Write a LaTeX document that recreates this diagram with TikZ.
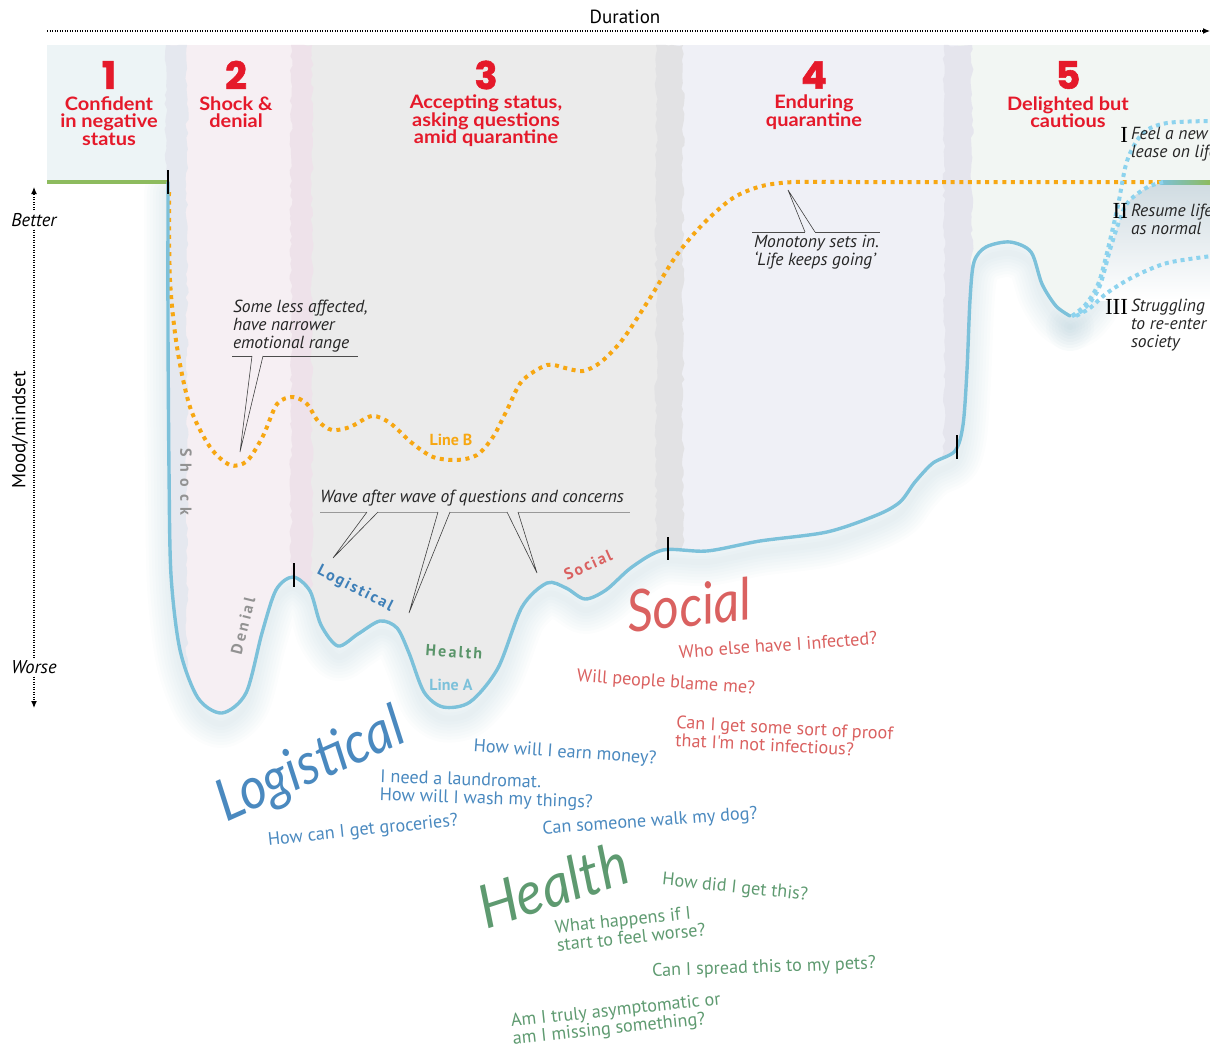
\documentclass[tikz,border=0pt]{standalone}
\usepackage{fontspec}
\setmainfont{PT Sans}
\newfontfamily\headfont{Lato}
\newfontfamily\numfont{Poppins}[FakeBold=1.5]
\newfontfamily\tagfont{PT Sans}
\newfontfamily\handfont{Lato}
\newfontfamily\qfont{PT Sans}
\newfontfamily\romanfont{Liberation Serif}
\usetikzlibrary{arrows.meta,decorations.pathmorphing}

\definecolor{headred}{HTML}{E5192A}
\definecolor{linea}{HTML}{7CC1DA}
\definecolor{lineb}{HTML}{F7A712}
\definecolor{afterc}{HTML}{8DD3EE}
\definecolor{greenc}{HTML}{8DBB5E}
\definecolor{shadowc}{HTML}{93B8C6}
\definecolor{shadeII}{HTML}{CFDBE1}
\definecolor{ph1}{HTML}{EDF4F6}
\definecolor{ph2}{HTML}{F6EFF3}
\definecolor{ph3}{HTML}{EBEBEB}
\definecolor{ph4}{HTML}{EFF0F6}
\definecolor{ph5}{HTML}{F2F6F3}
\definecolor{st12}{HTML}{E5E8EF}
\definecolor{st23}{HTML}{EEE2EA}
\definecolor{st34}{HTML}{E2E2E4}
\definecolor{st45}{HTML}{E5E5ED}
\definecolor{qblue}{HTML}{4A89BF}
\definecolor{qred}{HTML}{DA6160}
\definecolor{qgreen}{HTML}{5E9A70}
\definecolor{tagblue}{HTML}{3F80B8}
\definecolor{taggreen}{HTML}{5A956A}
\definecolor{taggray}{HTML}{929292}

% the mood curves, in pixel-like units (y grows downwards)
\def\lineApath{plot[smooth,tension=0.5] coordinates {(168,182) (168,330) (169,470) (171,575) (180,650) (198,698) (222,713) (246,693) (262,633) (276,590) (293,577) (310,591) (321,625) (338,646) (358,634) (380,621) (397,628) (409,653) (424,692) (443,707) (470,702) (498,668) (522,607) (547,583) (566,588) (585,599) (606,590) (632,567) (663,550) (707,551) (760,541) (827,532) (877,515) (900,502) (915,482) (933,463) (955,451) (963,425) (967,370) (970,300) (974,262) (986,247) (1010,242) (1031,252) (1042,284) (1056,306) (1070,316)}}
\def\lineIIpath{plot[smooth,tension=0.5] coordinates {(1070,316) (1084,309) (1099,288) (1112,243) (1126,205) (1146,188) (1167,182) (1190,182) (1210,182)}}
\def\lineIIjoin{-- plot[smooth,tension=0.5] coordinates {(1070,316) (1084,309) (1099,288) (1112,243) (1126,205) (1146,188) (1167,182) (1190,182) (1210,182)}}
\def\lineBpath{plot[smooth,tension=0.5] coordinates {(169,192) (170,280) (177,347) (190,407) (210,447) (230,465) (247,461) (263,436) (277,404) (293,397) (307,404) (318,421) (332,430) (350,427) (372,416) (390,423) (412,443) (433,457) (457,460) (477,455) (493,437) (507,410) (522,381) (547,365) (565,368) (583,371) (601,362) (623,339) (650,298) (676,256) (703,224) (733,198) (762,186) (795,182) (850,182) (950,182) (1050,182) (1165,182)}}

\begin{document}
\begin{tikzpicture}[x=1pt,y=-1pt,
  every node/.style={inner sep=0pt, outer sep=0pt},
  phasenum/.style={font=\numfont\bfseries\fontsize{38}{38}\selectfont, text=headred},
  phasetitle/.style={font=\headfont\bfseries\fontsize{18.5}{17.5}\selectfont, text=headred, align=center, xscale=1.08},
  note/.style={font=\itshape\fontsize{17.5}{18}\selectfont, text=black!85, align=left},
  underrule/.style={draw=black!70, line width=0.9pt},
  wedgeline/.style={draw=black!75, line width=0.6pt},
  tickmark/.style={draw=black, line width=2pt},
  curveA/.style={draw=linea, line width=3.4pt, line cap=round, line join=round},
  curveB/.style={draw=lineb, line width=4pt, dash pattern=on 4pt off 4.6pt},
  laterline/.style={draw=afterc, line width=4pt, dash pattern=on 4pt off 4pt},
  curvetag/.style={font=\tagfont\bfseries\fontsize{16}{16}\selectfont},
  question/.style={font=\qfont\fontsize{18.2}{18}\selectfont, align=left},
  bigword/.style={font=\handfont\itshape\fontsize{58}{58}\selectfont},
  axisdots/.style={draw=black, line width=1.2pt, dash pattern=on 1.2pt off 1.3pt},
  axislab/.style={font=\fontsize{19}{19}\selectfont, inner sep=3pt},
]
\useasboundingbox (0,0) rectangle (1210,1054);

% soft shadow below the curve
\foreach \w in {6,12,...,48}{
  \draw[shadowc, line width=\w pt, opacity=0.03, line join=round, line cap=round, shift={(0,11)}] \lineApath;
  \draw[shadowc, line width=\w pt, opacity=0.03, line join=round, line cap=round, shift={(0,11)}] \lineIIpath;
}
% darker haze under the "resume life" branch
\begin{scope}
  \clip \lineIIpath -- (1210,300) -- (1078,325) -- cycle;
  \shade[top color=shadeII, bottom color=white] (1070,182) rectangle (1210,300);
\end{scope}

% phase bands, cut off by the curve
\begin{scope}
  \clip \lineApath \lineIIjoin -- (1210,45) -- (47,45) -- (47,182) -- cycle;
  \fill[ph1] (47,45) rectangle (170,1054);
  \fill[ph2] (170,45) rectangle (300,1054);
  \fill[ph3] (300,45) rectangle (668,1054);
  \fill[ph4] (668,45) rectangle (958,1054);
  \fill[ph5] (958,45) rectangle (1210,1054);
  \begin{scope}[decoration={random steps,segment length=5pt,amplitude=1.6pt}]
    \fill[st12, decorate] (166,45) rectangle (187,1054);
    \fill[st23, decorate] (291,45) rectangle (312,1054);
    \fill[st34, decorate] (656,45) rectangle (683,1054);
    \fill[st45, decorate] (944,45) rectangle (972,1054);
  \end{scope}
\end{scope}

% baseline level before and after
\draw[greenc, line width=4pt] (47,182) -- (168,182);
\shade[left color=linea, right color=greenc] (1160,180) rectangle (1210,184);

% the curves
\draw[curveB] \lineBpath;
\draw[laterline] plot[smooth,tension=0.5] coordinates {(1072,316) (1086,304) (1100,279) (1117,210) (1127,161) (1143,133) (1167,123) (1212,121)};
\draw[laterline] plot[smooth,tension=0.5] coordinates {(1072,316) (1084,309) (1099,288) (1112,243) (1126,205) (1146,188) (1163,182)};
\draw[laterline] plot[smooth,tension=0.5] coordinates {(1076,316) (1090,308) (1107,293) (1133,277) (1167,263) (1212,256)};
\draw[curveA] \lineApath;

% phase boundaries on the curve
\coordinate (t1a) at (168,170); \coordinate (t1b) at (168,194);
\coordinate (t2a) at (294,563); \coordinate (t2b) at (294,587);
\coordinate (t3a) at (668,537); \coordinate (t3b) at (668,560);
\coordinate (t4a) at (957,435); \coordinate (t4b) at (957,459);
\draw[tickmark] (t1a) -- (t1b);
\draw[tickmark] (t2a) -- (t2b);
\draw[tickmark] (t3a) -- (t3b);
\draw[tickmark] (t4a) -- (t4b);

% duration axis
\node[axislab] (dur) at (625,17) {Duration};
\coordinate (durS) at (47,31);
\coordinate (durE) at (1210,31);
\draw[axisdots, -{Latex[length=7pt,width=6pt]}] (durS) -- (durE);

% mood axis
\node[axislab, font=\itshape\fontsize{18.5}{18.5}\selectfont] (better) at (34,220) {Better};
\node[axislab, font=\itshape\fontsize{18.5}{18.5}\selectfont] (worse) at (34,667) {Worse};
\coordinate (ytop) at (34,187);
\coordinate (ybot) at (34,708);
\draw[axisdots, -{Latex[length=7pt,width=6pt]}] (better.north) -- (ytop);
\draw[axisdots] (better.south) -- (worse.north);
\draw[axisdots, -{Latex[length=7pt,width=6pt]}] (worse.south) -- (ybot);
\node[axislab, rotate=90] (mood) at (20,430) {Mood/mindset};

% phase headings
\node[phasenum] (n1) at (109,75) {1};
\node[phasenum] (n2) at (236,75) {2};
\node[phasenum] (n3) at (486,75) {3};
\node[phasenum] (n4) at (814,75) {4};
\node[phasenum] (n5) at (1068,75) {5};
\node[phasetitle] (h1) at (109,121) {Confident\\in negative\\status};
\node[phasetitle] (h2) at (236,112) {Shock \&\\denial};
\node[phasetitle] (h3) at (486,121) {Accepting status,\\asking questions\\amid quarantine};
\node[phasetitle] (h4) at (814,112) {Enduring\\quarantine};
\node[phasetitle] (h5) at (1068,112) {Delighted but\\cautious};

% callout: less affected
\node[note, anchor=west] (less) at (233,326) {Some less affected,\\have narrower\\emotional range};
\coordinate (lessL) at (232,356); \coordinate (lessA) at (252,356);
\coordinate (lessB) at (263,356); \coordinate (lessR) at (358,356);
\coordinate (lessTip) at (240,452);
\draw[underrule] (lessL) -- (lessA);
\draw[underrule] (lessB) -- (lessR);
\draw[wedgeline] (lessA) -- (lessTip) -- (lessB);

% callout: waves of questions
\node[note, anchor=west] (wave) at (320,498) {Wave after wave of questions and concerns};
\coordinate (wL) at (320,512); \coordinate (wR) at (630,512);
\coordinate (w1a) at (367,512); \coordinate (w1b) at (378,512); \coordinate (w1t) at (333,558);
\coordinate (w2a) at (438,512); \coordinate (w2b) at (450,512); \coordinate (w2t) at (409,613);
\coordinate (w3a) at (507,512); \coordinate (w3b) at (518,512); \coordinate (w3t) at (537,573);
\draw[underrule, draw=black!40] (wL) -- (w1a);
\draw[underrule, draw=black!40] (w1b) -- (w2a);
\draw[underrule, draw=black!40] (w2b) -- (w3a);
\draw[underrule, draw=black!40] (w3b) -- (wR);
\draw[wedgeline] (w1a) -- (w1t) -- (w1b);
\draw[wedgeline] (w2a) -- (w2t) -- (w2b);
\draw[wedgeline] (w3a) -- (w3t) -- (w3b);

% callout: monotony
\node[note, anchor=west] (mono) at (754,252) {Monotony sets in.\\‘Life keeps going’};
\coordinate (mL) at (752,232); \coordinate (mA) at (805,232);
\coordinate (mB) at (815,232); \coordinate (mR) at (880,232);
\coordinate (mTip) at (788,190);
\draw[underrule] (mL) -- (mA);
\draw[underrule] (mB) -- (mR);
\draw[wedgeline] (mA) -- (mTip) -- (mB);

% outcomes after quarantine
\node[font=\romanfont\fontsize{23}{23}\selectfont, anchor=east] (r1) at (1128,135) {I};
\node[font=\romanfont\fontsize{23}{23}\selectfont, anchor=east] (r2) at (1128,211) {II};
\node[font=\romanfont\fontsize{23}{23}\selectfont, anchor=east] (r3) at (1128,307) {III};
\node[note, anchor=west] (o1) at (1131,144) {Feel a new\\lease on life};
\node[note, anchor=west] (o2) at (1131,219) {Resume life\\as normal};
\node[note, anchor=west] (o3) at (1131,325) {Struggling\\to re-enter\\society};

% tags along the curves
\node[curvetag, text=lineb] (tagB) at (451,440) {Line B};
\node[curvetag, text=linea] (tagA) at (451,685) {Line A};
\node[curvetag, text=taggray, rotate=-90, font=\tagfont\bfseries\fontsize{16}{16}\selectfont\addfontfeatures{LetterSpace=42}] (shock) at (186,482) {Shock};
\node[curvetag, text=taggray, rotate=76, font=\tagfont\bfseries\fontsize{16}{16}\selectfont\addfontfeatures{LetterSpace=18}] (denial) at (243,626) {Denial};
\node[curvetag, text=tagblue, rotate=-27, font=\tagfont\bfseries\fontsize{16}{16}\selectfont\addfontfeatures{LetterSpace=12}] (logtag) at (355,589) {Logistical};
\node[curvetag, text=taggreen, rotate=-4, font=\tagfont\bfseries\fontsize{16}{16}\selectfont\addfontfeatures{LetterSpace=14}] (healthtag) at (454,652) {Health};
\node[curvetag, text=qred, rotate=24, font=\tagfont\bfseries\fontsize{16}{16}\selectfont\addfontfeatures{LetterSpace=12}] (socialtag) at (588,565) {Social};

% social questions
\node[bigword, text=qred, rotate=6, xscale=0.88] (social) at (689,605) {Social};
\node[question, text=qred, rotate=4] (qs1) at (778,645) {Who else have I infected?};
\node[question, text=qred, rotate=-4] (qs2) at (666,683) {Will people blame me?};
\node[question, text=qred, rotate=-3, anchor=west] (qs3) at (676,731) {Can I get some sort of proof\\that I'm not infectious?};

% logistical questions
\node[bigword, text=qblue, rotate=24, xscale=0.9] (logistical) at (311,767) {Logistical};
\node[question, text=qblue, rotate=-4] (ql1) at (565,753) {How will I earn money?};
\node[question, text=qblue, rotate=-2, anchor=west] (ql2) at (380,787) {I need a laundromat.\\How will I wash my things?};
\node[question, text=qblue, rotate=6] (ql3) at (363,831) {How can I get groceries?};
\node[question, text=qblue, rotate=4] (ql4) at (650,822) {Can someone walk my dog?};

% health questions
\node[bigword, text=qgreen, rotate=18, xscale=0.92, font=\handfont\itshape\fontsize{60}{60}\selectfont] (health) at (553,885) {Health};
\node[question, text=qgreen, rotate=-6] (qh1) at (735,888) {How did I get this?};
\node[question, text=qgreen, rotate=6, anchor=west] (qh2) at (556,936) {What happens if I\\start to feel worse?};
\node[question, text=qgreen, rotate=2] (qh3) at (764,968) {Can I spread this to my pets?};
\node[question, text=qgreen, rotate=6, anchor=west] (qh4) at (512,1031) {Am I truly asymptomatic or\\am I missing something?};
\end{tikzpicture}
\end{document}
